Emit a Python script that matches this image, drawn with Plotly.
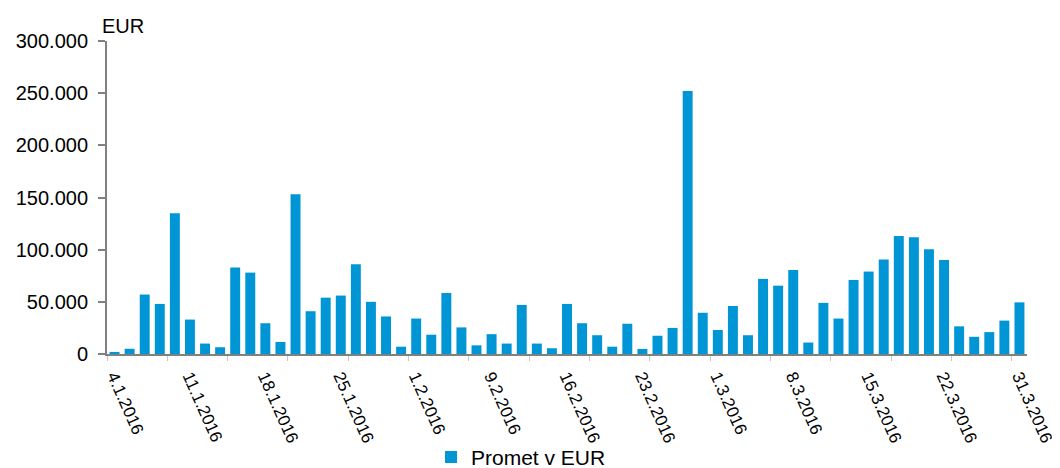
import plotly.graph_objects as go

dates = [
    "4.1.2016", "5.1.2016", "6.1.2016", "7.1.2016", "8.1.2016",
    "11.1.2016", "12.1.2016", "13.1.2016", "14.1.2016", "15.1.2016",
    "18.1.2016", "19.1.2016", "20.1.2016", "21.1.2016", "22.1.2016",
    "25.1.2016", "26.1.2016", "27.1.2016", "28.1.2016", "29.1.2016",
    "1.2.2016", "2.2.2016", "3.2.2016", "4.2.2016", "5.2.2016",
    "9.2.2016", "10.2.2016", "11.2.2016", "12.2.2016", "15.2.2016",
    "16.2.2016", "17.2.2016", "18.2.2016", "19.2.2016", "22.2.2016",
    "23.2.2016", "24.2.2016", "25.2.2016", "26.2.2016", "29.2.2016",
    "1.3.2016", "2.3.2016", "3.3.2016", "4.3.2016", "7.3.2016",
    "8.3.2016", "9.3.2016", "10.3.2016", "11.3.2016", "14.3.2016",
    "15.3.2016", "16.3.2016", "17.3.2016", "18.3.2016", "21.3.2016",
    "22.3.2016", "23.3.2016", "24.3.2016", "29.3.2016", "30.3.2016",
    "31.3.2016",
]

promet = [
    2000, 5000, 57000, 48000, 135000,
    33000, 10000, 6500, 83000, 78000,
    29500, 11500, 153000, 41000, 54000,
    56000, 86000, 50000, 36000, 7000,
    34000, 18500, 58500, 25500, 8300,
    19000, 10000, 47000, 10000, 5500,
    48000, 29500, 18000, 7000, 29000,
    4800, 17500, 25000, 252000, 39500,
    23000, 46000, 18000, 72000, 65500,
    80500, 11000, 49000, 34000, 71000,
    79000, 90500, 113000, 112000, 100500,
    90000, 26500, 16500, 21000, 32000,
    49500,
]

label_step = 5
idx = list(range(len(dates)))
tick_idx = idx[::label_step]
tick_text = [dates[i] for i in tick_idx]

font_family = "Liberation Sans, Arial, sans-serif"

fig = go.Figure()
fig.add_trace(go.Bar(
    x=idx,
    y=promet,
    name="Promet v EUR",
    marker=dict(color="#0096D6", line=dict(width=0)),
    width=0.66,
))

# page body has an 8px margin, so the figure is sized to fit the 1060x468 window
fig.update_layout(
    width=1052,
    height=460,
    margin=dict(l=99, r=33, t=33, b=114, autoexpand=False),
    paper_bgcolor="white",
    plot_bgcolor="white",
    separators=",.",
    font=dict(family=font_family, size=20, color="#000000"),
    showlegend=True,
    legend=dict(
        orientation="h",
        x=0.45, xanchor="center",
        y=-0.33, yanchor="middle",
        bgcolor="rgba(0,0,0,0)",
        font=dict(size=21, color="#000000"),
        itemwidth=30,
    ),
    annotations=[dict(
        text="EUR", xref="paper", yref="paper",
        x=-0.0075, y=1.0495, xanchor="left", yanchor="middle",
        showarrow=False, font=dict(size=20, color="#000000"),
    )],
)

fig.update_xaxes(
    range=[-0.5, len(dates) - 0.5],
    automargin=False,
    tickmode="array",
    tickvals=tick_idx,
    ticktext=tick_text,
    tickangle=66,
    ticks="",
    ticklabeloverflow="allow",
    ticklabelstandoff=4,
    showgrid=False,
    zeroline=False,
    showline=True,
    linecolor="#808080",
    linewidth=2,
    tickfont=dict(size=17, color="#000000"),
    minor=dict(ticks="outside", tick0=-0.5, dtick=4, ticklen=5,
               tickcolor="#C8C8C8", tickwidth=1, showgrid=False),
)

fig.update_yaxes(
    range=[0, 300000],
    automargin=False,
    dtick=50000,
    tickformat=",.0f",
    ticks="outside",
    ticklen=7,
    tickwidth=2,
    tickcolor="#808080",
    ticklabelstandoff=6,
    showgrid=False,
    zeroline=False,
    showline=True,
    linecolor="#808080",
    linewidth=2,
    tickfont=dict(size=20, color="#000000"),
)

fig.write_html("out.html")
